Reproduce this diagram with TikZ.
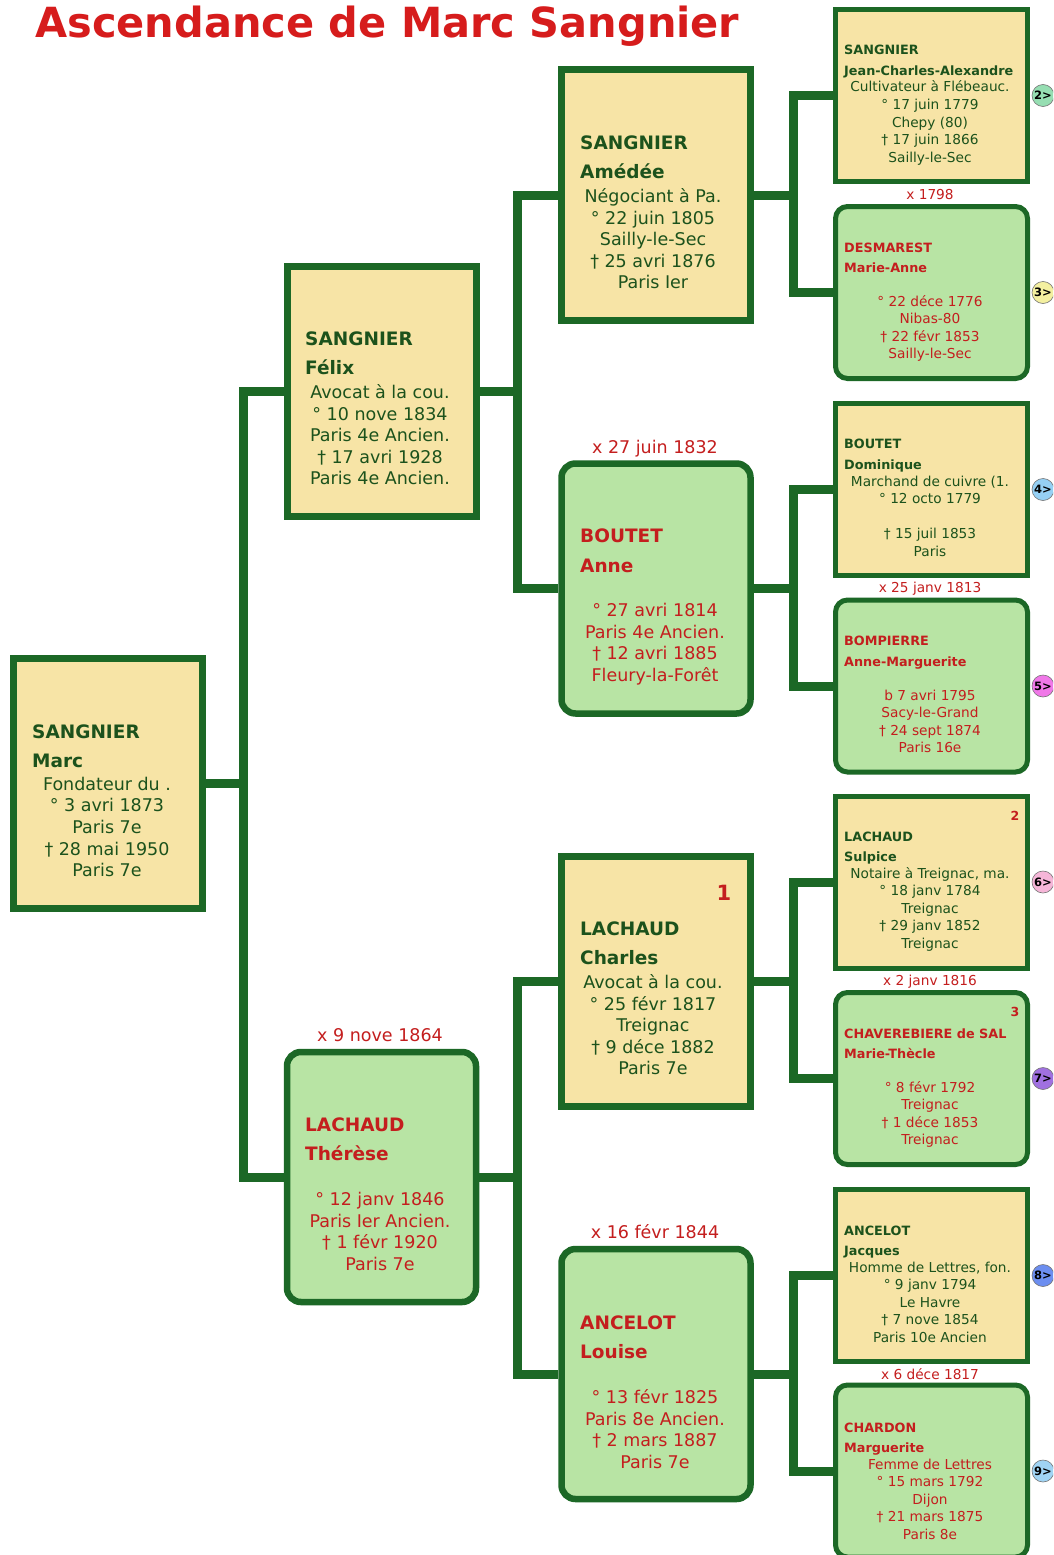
\documentclass[tikz,border=0pt]{standalone}
\usepackage{fontspec}
\setmainfont{DejaVu Sans}
\usetikzlibrary{backgrounds}
\definecolor{bgreen}{RGB}{28,104,38}
\definecolor{tgreen}{RGB}{28,82,28}
\definecolor{tred}{RGB}{196,30,30}
\definecolor{titred}{RGB}{214,28,28}
\definecolor{yfill}{RGB}{247,228,166}
\definecolor{gfill}{RGB}{184,228,164}
\begin{document}
\begin{tikzpicture}[x=1pt,y=-1pt,
  ybig/.style={draw=bgreen, fill=yfill, line width=7pt, minimum width=189pt, minimum height=250pt, inner sep=0},
  gbig/.style={draw=bgreen, fill=gfill, line width=6.5pt, rounded corners=14pt, minimum width=189pt, minimum height=250pt, inner sep=0},
  ysm/.style={draw=bgreen, fill=yfill, line width=5pt, minimum width=192pt, minimum height=172pt, inner sep=0},
  gsm/.style={draw=bgreen, fill=gfill, line width=5pt, rounded corners=12pt, minimum width=192pt, minimum height=172pt, inner sep=0},
  bname/.style={anchor=base west, inner sep=0, font=\bfseries\fontsize{18.5}{18.5}\selectfont},
  bline/.style={anchor=base, inner sep=0, font=\fontsize{17.5}{17.5}\selectfont},
  sname/.style={anchor=base west, inner sep=0, font=\bfseries\fontsize{12.8}{12.8}\selectfont},
  sline/.style={anchor=base, inner sep=0, font=\fontsize{13.7}{13.7}\selectfont},
  conn/.style={draw=bgreen, line width=9pt, line join=miter},
  circ/.style={circle, draw=black!55, line width=0.6pt, minimum size=22pt, inner sep=0, font=\bfseries\fontsize{11.5}{11.5}\selectfont},
]
\useasboundingbox (0,0) rectangle (1053,1555);
\clip (0,0) rectangle (1053,1555);

% title
\node[anchor=base west, inner sep=0, text=titred, font=\bfseries\fontsize{41.5}{41.5}\selectfont] (title) at (35,38) {Ascendance de Marc Sangnier};

% ---------- boxes ----------
\node[ybig] (marc) at (107.5,783.5) {};
\node[ybig] (felix) at (381.5,391.5) {};
\node[gbig] (therese) at (381.5,1177) {};
\node[ybig] (amedee) at (656,195) {};
\node[gbig] (anne) at (656,588.5) {};
\node[ybig] (charles) at (656,981.5) {};
\node[gbig] (louise) at (656,1374) {};
\node[ysm] (jca) at (931.5,95.5) {};
\node[gsm] (desm) at (931.5,292.5) {};
\node[ysm] (domi) at (931.5,489.5) {};
\node[gsm] (bomp) at (931.5,686) {};
\node[ysm] (sulp) at (931.5,882) {};
\node[gsm] (chav) at (931.5,1078.5) {};
\node[ysm] (jacq) at (931.5,1275.5) {};
\node[gsm] (chard) at (931.5,1471) {};

% ---------- connectors ----------
\coordinate (b0) at (243,783.5);
\coordinate (b1) at (517,391.5);
\coordinate (b2) at (517,1177);
\coordinate (b3) at (793,195);
\coordinate (b4) at (793,588.5);
\coordinate (b5) at (793,981.5);
\coordinate (b6) at (793,1374);
\begin{pgfonlayer}{background}
\fill[white] (0,0) rectangle (1053,1555);
\draw[conn] (marc.east) -- (b0);
\draw[conn] (felix.west) -| (b0) |- (therese.west);
\draw[conn] (felix.east) -- (b1);
\draw[conn] (amedee.west) -| (b1) |- (anne.west);
\draw[conn] (therese.east) -- (b2);
\draw[conn] (charles.west) -| (b2) |- (louise.west);
\draw[conn] (amedee.east) -- (b3);
\draw[conn] (jca.west) -| (b3) |- (desm.west);
\draw[conn] (anne.east) -- (b4);
\draw[conn] (domi.west) -| (b4) |- (bomp.west);
\draw[conn] (charles.east) -- (b5);
\draw[conn] (sulp.west) -| (b5) |- (chav.west);
\draw[conn] (louise.east) -- (b6);
\draw[conn] (jacq.west) -| (b6) |- (chard.west);
\end{pgfonlayer}

% ---------- Marc ----------
\begin{scope}[text=tgreen]
\node[bname] (marc-n) at (32,738) {SANGNIER};
\node[bname] (marc-p) at (32,767) {Marc};
\node[bline] (marc-1) at (107,790.5) {Fondateur du .};
\node[bline] (marc-2) at (107,811.5) {° 3 avri 1873};
\node[bline] (marc-3) at (107,833.5) {Paris 7e};
\node[bline] (marc-4) at (107,855) {† 28 mai 1950};
\node[bline] (marc-5) at (107,876.5) {Paris 7e};
% Felix
\node[bname] (felix-n) at (305,345) {SANGNIER};
\node[bname] (felix-p) at (305,374) {Félix};
\node[bline] (felix-1) at (380,398.5) {Avocat à la cou.};
\node[bline] (felix-2) at (380,420) {° 10 nove 1834};
\node[bline] (felix-3) at (380,441.5) {Paris 4e Ancien.};
\node[bline] (felix-4) at (380,463) {† 17 avri 1928};
\node[bline] (felix-5) at (380,484.5) {Paris 4e Ancien.};
% Amedee
\node[bname] (amedee-n) at (580,149) {SANGNIER};
\node[bname] (amedee-p) at (580,178) {Amédée};
\node[bline] (amedee-1) at (653,202.5) {Négociant à Pa.};
\node[bline] (amedee-2) at (653,224) {° 22 juin 1805};
\node[bline] (amedee-3) at (653,245.5) {Sailly-le-Sec};
\node[bline] (amedee-4) at (653,267) {† 25 avri 1876};
\node[bline] (amedee-5) at (653,288.5) {Paris Ier};
% Charles
\node[bname] (charles-n) at (580,935) {LACHAUD};
\node[bname] (charles-p) at (580,964) {Charles};
\node[bline] (charles-1) at (653,988.5) {Avocat à la cou.};
\node[bline] (charles-2) at (653,1010) {° 25 févr 1817};
\node[bline] (charles-3) at (653,1031.5) {Treignac};
\node[bline] (charles-4) at (653,1053) {† 9 déce 1882};
\node[bline] (charles-5) at (653,1074.5) {Paris 7e};
% JCA
\node[sname] (jca-n) at (844,55) {SANGNIER};
\node[sname] (jca-p) at (844,75) {Jean-Charles-Alexandre};
\node[sline] (jca-1) at (930,92) {Cultivateur à Flébeauc.};
\node[sline] (jca-2) at (930,109.5) {° 17 juin 1779};
\node[sline] (jca-3) at (930,127) {Chepy (80)};
\node[sline] (jca-4) at (930,144.5) {† 17 juin 1866};
\node[sline] (jca-5) at (930,162) {Sailly-le-Sec};
% Dominique
\node[sname] (domi-n) at (844,448) {BOUTET};
\node[sname] (domi-p) at (844,469) {Dominique};
\node[sline] (domi-1) at (930,486) {Marchand de cuivre (1.};
\node[sline] (domi-2) at (930,503.5) {° 12 octo 1779};
\node[sline] (domi-4) at (930,538.5) {† 15 juil 1853};
\node[sline] (domi-5) at (930,556) {Paris};
% Sulpice
\node[sname] (sulp-n) at (844,841) {LACHAUD};
\node[sname] (sulp-p) at (844,861) {Sulpice};
\node[sline] (sulp-1) at (930,878) {Notaire à Treignac, ma.};
\node[sline] (sulp-2) at (930,895.5) {° 18 janv 1784};
\node[sline] (sulp-3) at (930,913) {Treignac};
\node[sline] (sulp-4) at (930,930.5) {† 29 janv 1852};
\node[sline] (sulp-5) at (930,948) {Treignac};
% Jacques
\node[sname] (jacq-n) at (844,1235) {ANCELOT};
\node[sname] (jacq-p) at (844,1255) {Jacques};
\node[sline] (jacq-1) at (930,1272) {Homme de Lettres, fon.};
\node[sline] (jacq-2) at (930,1289.5) {° 9 janv 1794};
\node[sline] (jacq-3) at (930,1307) {Le Havre};
\node[sline] (jacq-4) at (930,1324.5) {† 7 nove 1854};
\node[sline] (jacq-5) at (930,1342) {Paris 10e Ancien};
\end{scope}

\begin{scope}[text=tred]
% Anne
\node[bname] (anne-n) at (580,542) {BOUTET};
\node[bname] (anne-p) at (580,572) {Anne};
\node[bline] (anne-1) at (655,616.5) {° 27 avri 1814};
\node[bline] (anne-2) at (655,638) {Paris 4e Ancien.};
\node[bline] (anne-3) at (655,659.5) {† 12 avri 1885};
\node[bline] (anne-4) at (655,681) {Fleury-la-Forêt};
% Therese
\node[bname] (therese-n) at (305,1131) {LACHAUD};
\node[bname] (therese-p) at (305,1160) {Thérèse};
\node[bline] (therese-1) at (380,1205.5) {° 12 janv 1846};
\node[bline] (therese-2) at (380,1227) {Paris Ier Ancien.};
\node[bline] (therese-3) at (380,1248.5) {† 1 févr 1920};
\node[bline] (therese-4) at (380,1270) {Paris 7e};
% Louise
\node[bname] (louise-n) at (580,1329) {ANCELOT};
\node[bname] (louise-p) at (580,1358) {Louise};
\node[bline] (louise-1) at (655,1403.5) {° 13 févr 1825};
\node[bline] (louise-2) at (655,1425) {Paris 8e Ancien.};
\node[bline] (louise-3) at (655,1446.5) {† 2 mars 1887};
\node[bline] (louise-4) at (655,1468) {Paris 7e};
% Desmarest
\node[sname] (desm-n) at (844,252) {DESMAREST};
\node[sname] (desm-p) at (844,272) {Marie-Anne};
\node[sline] (desm-1) at (930,306) {° 22 déce 1776};
\node[sline] (desm-2) at (930,323.5) {Nibas-80};
\node[sline] (desm-3) at (930,341) {† 22 févr 1853};
\node[sline] (desm-4) at (930,358.5) {Sailly-le-Sec};
% Bompierre
\node[sname] (bomp-n) at (844,645) {BOMPIERRE};
\node[sname] (bomp-p) at (844,666) {Anne-Marguerite};
\node[sline] (bomp-1) at (930,700) {b 7 avri 1795};
\node[sline] (bomp-2) at (930,717.5) {Sacy-le-Grand};
\node[sline] (bomp-3) at (930,735) {† 24 sept 1874};
\node[sline] (bomp-4) at (930,752.5) {Paris 16e};
% Chaverebiere
\node[sname] (chav-n) at (844,1038) {CHAVEREBIERE de SAL};
\node[sname] (chav-p) at (844,1058) {Marie-Thècle};
\node[sline] (chav-1) at (930,1092) {° 8 févr 1792};
\node[sline] (chav-2) at (930,1109.5) {Treignac};
\node[sline] (chav-3) at (930,1127) {† 1 déce 1853};
\node[sline] (chav-4) at (930,1144.5) {Treignac};
% Chardon
\node[sname] (chard-n) at (844,1432) {CHARDON};
\node[sname] (chard-p) at (844,1452) {Marguerite};
\node[sline] (chard-1) at (930,1469) {Femme de Lettres};
\node[sline] (chard-2) at (930,1486.5) {° 15 mars 1792};
\node[sline] (chard-3) at (930,1504) {Dijon};
\node[sline] (chard-4) at (930,1521.5) {† 21 mars 1875};
\node[sline] (chard-5) at (930,1539) {Paris 8e};
% marriages
\node[bline] (m1) at (655,453.5) {x 27 juin 1832};
\node[bline] (m2) at (380,1041.5) {x 9 nove 1864};
\node[bline] (m3) at (655,1238.5) {x 16 févr 1844};
\node[sline] (m4) at (930,199.5) {x 1798};
\node[sline] (m5) at (930,592.5) {x 25 janv 1813};
\node[sline] (m6) at (930,985.5) {x 2 janv 1816};
\node[sline] (m7) at (930,1379.5) {x 6 déce 1817};
% numbers
\node[inner sep=0, font=\bfseries\fontsize{21}{21}\selectfont] (num1) at (724,893) {1};
\node[inner sep=0, font=\bfseries\fontsize{12.5}{12.5}\selectfont] (num2) at (1015,816) {2};
\node[inner sep=0, font=\bfseries\fontsize{12.5}{12.5}\selectfont] (num3) at (1015,1012) {3};
\end{scope}

% ---------- circles ----------
\node[circ, fill={rgb,255:red,150;green,222;blue,178}] (c2) at (1043,95.5) {2>};
\node[circ, fill={rgb,255:red,244;green,240;blue,160}] (c3) at (1043,292.5) {3>};
\node[circ, fill={rgb,255:red,150;green,208;blue,244}] (c4) at (1043,489.5) {4>};
\node[circ, fill={rgb,255:red,240;green,120;blue,232}] (c5) at (1043,686) {5>};
\node[circ, fill={rgb,255:red,246;green,182;blue,216}] (c6) at (1043,882) {6>};
\node[circ, fill={rgb,255:red,160;green,112;blue,224}] (c7) at (1043,1078.5) {7>};
\node[circ, fill={rgb,255:red,108;green,142;blue,240}] (c8) at (1043,1275.5) {8>};
\node[circ, fill={rgb,255:red,160;green,212;blue,244}] (c9) at (1043,1471) {9>};
\end{tikzpicture}
\end{document}
